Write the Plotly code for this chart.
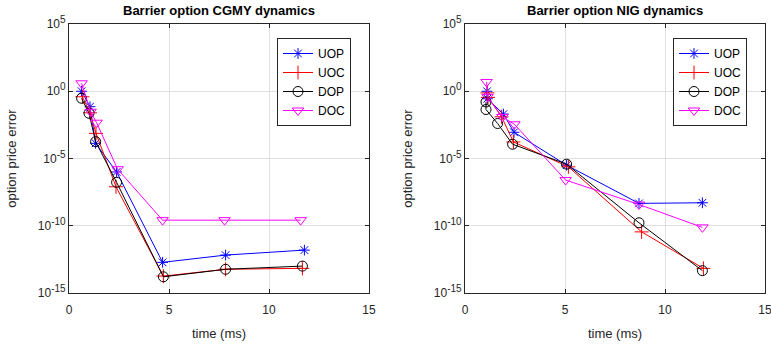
import plotly.graph_objects as go

# ---- data ----
series_names = ["UOP", "UOC", "DOP", "DOC"]

cgmy_uop_x = [0.63, 1.05, 1.33, 2.38, 4.68, 7.83, 11.77]
cgmy_uop_y = [1.0, 7.1e-2, 1.35e-4, 1.0e-6, 1.9e-13, 6.6e-13, 1.55e-12]
cgmy_uoc_x = [0.67, 1.05, 1.35, 2.35, 4.72, 7.83, 11.67]
cgmy_uoc_y = [3.9e-1, 2.5e-2, 7.4e-4, 7.9e-8, 1.8e-14, 5.8e-14, 6.8e-14]
cgmy_dop_x = [0.63, 1.0, 1.33, 2.38, 4.72, 7.83, 11.67]
cgmy_dop_y = [3.0e-1, 2.3e-2, 1.8e-4, 1.7e-7, 1.6e-14, 5.8e-14, 1.0e-13]
cgmy_doc_x = [0.63, 1.08, 1.38, 2.43, 4.68, 7.78, 11.58]
cgmy_doc_y = [3.9, 3.0e-2, 4.6e-3, 1.6e-6, 2.6e-10, 2.6e-10, 2.6e-10]

nig_uop_x = [1.1, 1.12, 1.92, 2.45, 5.08, 8.7, 11.87]
nig_uop_y = [1.0, 2.8e-1, 2.0e-2, 8.9e-4, 3.2e-6, 4.6e-9, 5.1e-9]
nig_uoc_x = [1.12, 1.15, 1.83, 2.42, 5.17, 8.83, 11.92]
nig_uoc_y = [7.6e-1, 3.5e-1, 1.26e-2, 1.7e-4, 2.4e-6, 3.5e-11, 6.8e-14]
nig_dop_x = [1.05, 1.05, 1.63, 2.38, 5.08, 8.7, 11.87]
nig_dop_y = [1.6e-1, 4.4e-2, 4.0e-3, 1.15e-4, 3.8e-6, 1.66e-10, 4.6e-14]
nig_doc_x = [1.08, 1.13, 1.87, 2.47, 5.03, 8.7, 11.87]
nig_doc_y = [4.9, 3.8e-1, 1.23e-2, 3.5e-3, 2.5e-7, 3.8e-9, 7.6e-11]

titles = ["Barrier option CGMY dynamics", "Barrier option NIG dynamics"]
x_ticks = [0, 5, 10, 15]
y_tick_exps = [-15, -10, -5, 0, 5]

# ---- styles ----
styles = {
    "UOP": dict(color="#0000FF", symbol="asterisk-open", size=9),
    "UOC": dict(color="#FF0000", symbol="cross-thin-open", size=10),
    "DOP": dict(color="#000000", symbol="circle-open", size=10),
    "DOC": dict(color="#FF00FF", symbol="triangle-down-open", size=10),
}

panels = [
    [(cgmy_uop_x, cgmy_uop_y), (cgmy_uoc_x, cgmy_uoc_y), (cgmy_dop_x, cgmy_dop_y), (cgmy_doc_x, cgmy_doc_y)],
    [(nig_uop_x, nig_uop_y), (nig_uoc_x, nig_uoc_y), (nig_dop_x, nig_dop_y), (nig_doc_x, nig_doc_y)],
]

W, H = 771, 350
FONT = "Liberation Sans, Arial, Helvetica, sans-serif"
AX = "#262626"
GRID = "#DFDFDF"

fig = go.Figure()
plot_left = [69, 465]
plot_w = 300
top, bottom = 24, 293
legend_pos = [(277, 38), (673, 38)]

for p, data in enumerate(panels):
    xa = "x" if p == 0 else "x2"
    ya = "y" if p == 0 else "y2"
    lg = "legend" if p == 0 else "legend2"
    for name, (xs, ys) in zip(series_names, data):
        st = styles[name]
        fig.add_trace(go.Scatter(
            x=xs, y=ys, name=name, mode="lines+markers",
            xaxis=xa, yaxis=ya, legend=lg,
            line=dict(color=st["color"], width=1),
            marker=dict(symbol=st["symbol"], size=st["size"], color=st["color"],
                        line=dict(color=st["color"], width=1)),
        ))

axis_common = dict(
    showline=True, linecolor=AX, linewidth=1, mirror="ticks",
    ticks="inside", ticklen=4, tickcolor=AX,
    showgrid=True, gridcolor=GRID, gridwidth=1, zeroline=False,
    tickfont=dict(family=FONT, size=12, color=AX),
    automargin=False, ticklabeloverflow="allow",
)

ytext = ["10<sup><span style='font-size:10px'>%d</span></sup>" % e for e in y_tick_exps]
yvals = [10.0 ** e for e in y_tick_exps]

layout = dict(
    width=W, height=H, margin=dict(l=0, r=0, t=0, b=0),
    paper_bgcolor="white", plot_bgcolor="white",
    font=dict(family=FONT, color=AX),
    showlegend=True,
)
for p in range(2):
    suffix = "" if p == 0 else "2"
    x0 = plot_left[p] / W
    x1 = (plot_left[p] + plot_w) / W
    layout["xaxis" + suffix] = dict(
        axis_common, domain=[x0, x1], range=[0, 15], tickvals=x_ticks,
        anchor="y" + suffix, ticklabelstandoff=6,
        title=dict(text="time (ms)", font=dict(family=FONT, size=13, color=AX), standoff=12),
    )
    layout["yaxis" + suffix] = dict(
        axis_common, domain=[(H - bottom) / H, (H - top) / H], type="log",
        range=[-15, 5], tickvals=yvals, ticktext=ytext, anchor="x" + suffix,
        title=dict(text="option price error",
                   font=dict(family=FONT, size=13, color=AX), standoff=18),
    )
    lx, ly = legend_pos[p]
    layout["legend" + ("" if p == 0 else "2")] = dict(
        x=lx / W, y=(H - ly) / H, xanchor="left", yanchor="top",
        bgcolor="white", bordercolor=AX, borderwidth=1,
        font=dict(family=FONT, size=12, color="#000000"),
        tracegroupgap=0,
    )

fig.update_layout(**layout)

for p in range(2):
    cx = (plot_left[p] + plot_w / 2) / W
    fig.add_annotation(
        text="<b>%s</b>" % titles[p], x=cx, y=(H - 10) / H,
        xref="paper", yref="paper", showarrow=False,
        xanchor="center", yanchor="middle",
        font=dict(family=FONT, size=13, color="#000000"),
    )

fig.write_html("out.html", config={"displayModeBar": False},
               post_script="document.body.style.margin='0';")
